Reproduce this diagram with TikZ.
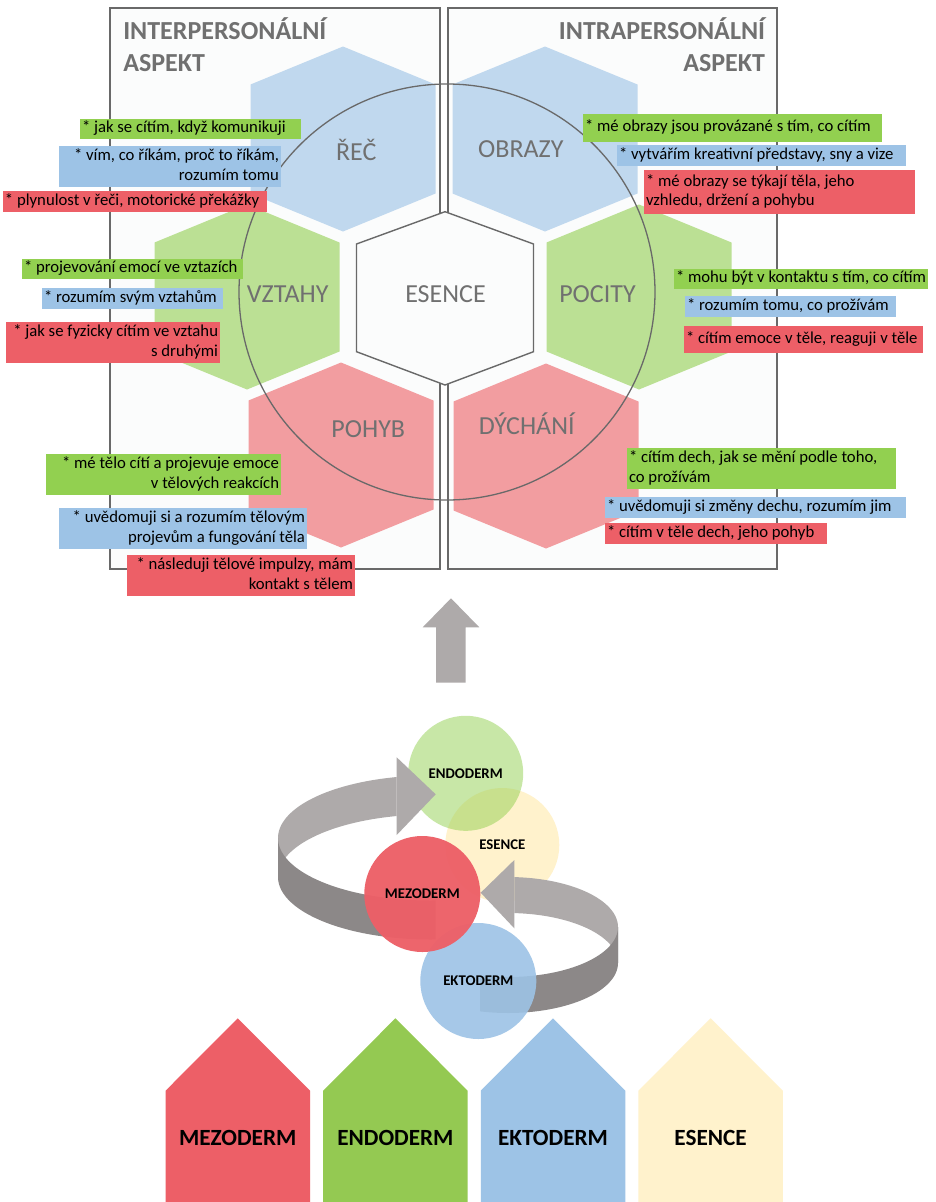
\documentclass[tikz,border=0pt]{standalone}
\usepackage{fontspec}
\setmainfont{Carlito}
\definecolor{hexblue}{RGB}{192,216,238}
\definecolor{hexgreen}{RGB}{187,224,148}
\definecolor{hexred}{RGB}{242,157,160}
\definecolor{tagG}{RGB}{146,208,80}
\definecolor{tagB}{RGB}{157,195,230}
\definecolor{tagR}{RGB}{237,95,103}
\definecolor{linegray}{RGB}{105,105,105}
\definecolor{labelgray}{RGB}{112,112,112}
\definecolor{panelfill}{RGB}{251,252,252}
\definecolor{ribbonlight}{RGB}{174,170,170}
\definecolor{ribbondark}{RGB}{140,136,136}
\definecolor{esenceyellow}{RGB}{255,242,204}
\definecolor{houseGreen}{RGB}{148,201,82}
\newcommand\tagfont{\fontsize{16.7}{19.4}\selectfont}
\begin{document}
\begin{tikzpicture}[x=1pt,y=-1pt,
  every node/.style={inner sep=0pt, outer sep=0pt},
  panel/.style={draw=linegray, line width=1.5pt, fill=panelfill},
  hexa/.pic={\path[pic actions] (0,-92.5) -- (92.5,-54.5) -- (92.5,54.5) -- (0,92.5) -- (-92.5,54.5) -- (-92.5,-54.5) -- cycle;},
  house/.pic={\path[pic actions] (-72.25,184) -- (-72.25,72.4) -- (0,0) -- (72.25,72.4) -- (72.25,184) -- cycle;},
  hexlabel/.style={anchor=base, text=labelgray, font=\fontsize{26}{31}\selectfont},
  title/.style={text=labelgray, font=\bfseries\fontsize{26}{31}\selectfont},
  tag/.style={fill=#1, inner xsep=2pt, inner ysep=0pt, font=\tagfont, text=black,
    execute at begin node=\strut, execute at end node=\strut},
  germ/.style={circle, minimum size=#1, text=black, text opacity=1,
    font=\bfseries\fontsize{14.8}{17}\selectfont},
  houselabel/.style={text=black, font=\bfseries\fontsize{23.2}{28}\selectfont},
]
\useasboundingbox (0,0) rectangle (936,1202);
\fill[white] (0,0) rectangle (936,1202);

% ---------- the two aspect panels ----------
\draw[panel] (110,8) rectangle (440,569);
\draw[panel] (448,8) rectangle (777,569);

% ---------- honeycomb ----------
\pic[fill=hexblue] at (343,139) {hexa};
\pic[fill=hexblue] at (545,139) {hexa};
\pic[fill=hexgreen] at (247,297) {hexa};
\pic[fill=hexgreen] at (639,297) {hexa};
\pic[fill=hexred] at (341,455) {hexa};
\pic[fill=hexred] at (546,456) {hexa};
\draw[linegray, line width=1.4pt, fill=panelfill]
  (445,211.7) -- (533.5,244) -- (533.5,351.7) -- (445,385) -- (356.5,351.7) -- (356.5,244) -- cycle;

\node[circle, draw=linegray, line width=1.3pt, minimum size=416pt] (ring) at (447,292) {};

\node[hexlabel] (rec) at (356.3,160) {ŘEČ};
\node[hexlabel] (obrazy) at (520.8,157.7) {OBRAZY};
\node[hexlabel] (vztahy) at (287.7,302.3) {VZTAHY};
\node[hexlabel] (esence) at (445.5,302.3) {ESENCE};
\node[hexlabel] (pocity) at (597.5,302.3) {POCITY};
\node[hexlabel] (pohyb) at (368.3,437.3) {POHYB};
\node[hexlabel] (dychani) at (526.7,434.3) {DÝCHÁNÍ};

\node[title, anchor=base west] (inter1) at (123.3,39.5) {INTERPERSONÁLNÍ};
\node[title, anchor=base west] (inter2) at (123.3,71.5) {ASPEKT};
\node[title, anchor=base east] (intra1) at (765,39.5) {INTRAPERSONÁLNÍ};
\node[title, anchor=base east] (intra2) at (765,71.5) {ASPEKT};

% ---------- interpersonal notes ----------
\node[tag=tagG, text width=217pt, minimum height=20pt, align=flush left] (t1) at (190.5,129) {* jak se cítím, když komunikuji};
\node[tag=tagB, text width=218pt, minimum height=41pt, align=flush right] (t2) at (170,166.5) {* vím, co říkám, proč to říkám,\\rozumím tomu};
\node[tag=tagR, text width=260pt, minimum height=21pt, align=flush left] (t3) at (135,201.5) {* plynulost v řeči, motorické překážky};
\node[tag=tagG, text width=217pt, minimum height=20pt, align=flush left] (t4) at (132.5,269) {* projevování emocí ve vztazích};
\node[tag=tagB, text width=177pt, minimum height=21pt, align=flush left] (t5) at (132.5,298.5) {* rozumím svým vztahům};
\node[tag=tagR, text width=210pt, minimum height=41pt, align=flush right] (t6) at (113,342.5) {* jak se fyzicky cítím ve vztahu\\s druhými};
\node[tag=tagG, text width=231pt, minimum height=41pt, align=flush right] (t7) at (163.5,474.5) {* mé tělo cítí a projevuje emoce\\v tělových reakcích};
\node[tag=tagB, text width=244pt, minimum height=41pt, align=flush right] (t8) at (183,528.5) {* uvědomuji si a rozumím tělovým\\projevům a fungování těla};
\node[tag=tagR, text width=224pt, minimum height=41pt, align=flush right] (t9) at (241,575.5) {* následuji tělové impulzy, mám\\kontakt s tělem};

% ---------- intrapersonal notes ----------
\node[tag=tagG, text width=295pt, minimum height=28pt, align=flush left] (t10) at (732.5,128) {* mé obrazy jsou provázané s tím, co cítím};
\node[tag=tagB, text width=285pt, minimum height=21pt, align=flush left] (t11) at (761.5,155.5) {* vytvářím kreativní představy, sny a vize};
\node[tag=tagR, text width=267pt, minimum height=44pt, align=flush left] (t12) at (779.5,192) {* mé obrazy se týkají těla, jeho\\vzhledu, držení a pohybu};
\node[tag=tagG, text width=250pt, minimum height=20pt, align=flush left] (t13) at (801,279) {* mohu být v kontaktu s tím, co cítím};
\node[tag=tagB, text width=207pt, minimum height=21pt, align=flush left] (t14) at (790.5,306.5) {* rozumím tomu, co prožívám};
\node[tag=tagR, text width=235pt, minimum height=27pt, align=flush left] (t15) at (803.5,339.5) {* cítím emoce v těle, reaguji v těle};
\node[tag=tagG, text width=265pt, minimum height=41pt, align=flush left] (t16) at (761.5,468.5) {* cítím dech, jak se mění podle toho,\\co prožívám};
\node[tag=tagB, text width=297pt, minimum height=21pt, align=flush left] (t17) at (755.5,507.5) {* uvědomuji si změny dechu, rozumím jim};
\node[tag=tagR, text width=218pt, minimum height=21pt, align=flush left] (t18) at (716,533.5) {* cítím v těle dech, jeho pohyb};

% ---------- block arrow up ----------
\fill[ribbonlight] (436,682.7) -- (436,627.3) -- (422.7,627.3) -- (451,598.3)
  -- (479.3,627.3) -- (465.7,627.3) -- (465.7,682.7) -- cycle;

% ---------- germ layers cycle ----------
\node[germ=114pt, fill=esenceyellow] (cEsence) at (502.3,845) {ESENCE};
\node[germ=115pt, fill=tagG, fill opacity=0.5] (cEndo) at (465.7,773.3) {ENDODERM};

% upper ribbon: inner face, head, outer face
\fill[ribbonlight] plot[domain=257.35:180, samples=50, variable=\t] ({430+152*cos(\t)},{838+62.5*sin(\t)})
  -- plot[domain=180:257.35, samples=50, variable=\t] ({430+152*cos(\t)},{877+62.5*sin(\t)}) -- cycle;
\fill[ribbonlight] (396.7,757.3) -- (435.7,794.3) -- (396.7,835) -- cycle;
\fill[ribbondark] plot[domain=180:87.85, samples=50, variable=\t] ({430+152*cos(\t)},{838+62.5*sin(\t)})
  -- plot[domain=87.85:180, samples=50, variable=\t] ({430+152*cos(\t)},{877+62.5*sin(\t)}) -- cycle;

% lower ribbon: inner face, head, outer face
\fill[ribbonlight] plot[domain=273.3:360, samples=50, variable=\t] ({508+110*cos(\t)},{927+50*sin(\t)})
  -- plot[domain=360:273.3, samples=50, variable=\t] ({508+110*cos(\t)},{963+50*sin(\t)}) -- cycle;
\fill[ribbonlight] (514.3,860) -- (480.7,892.7) -- (514.3,928.3) -- cycle;
\fill[ribbondark] plot[domain=0:104.7, samples=50, variable=\t] ({508+110*cos(\t)},{927+50*sin(\t)})
  -- plot[domain=104.7:0, samples=50, variable=\t] ({508+110*cos(\t)},{963+50*sin(\t)}) -- cycle;

\node[germ=116pt, fill=tagB, fill opacity=0.9] (cEkto) at (478.3,981) {EKTODERM};
\node[germ=116pt, fill=tagR, fill opacity=0.96] (cMezo) at (422.3,894) {MEZODERM};

% ---------- the four layers ----------
\pic[fill=tagR] at (237.8,1018.3) {house};
\pic[fill=houseGreen] at (395.4,1018.3) {house};
\pic[fill=tagB] at (553,1018.3) {house};
\pic[fill=esenceyellow] at (710.6,1018.3) {house};
\node[houselabel] (hMezo) at (237.8,1138) {MEZODERM};
\node[houselabel] (hEndo) at (395.4,1138) {ENDODERM};
\node[houselabel] (hEkto) at (553,1138) {EKTODERM};
\node[houselabel] (hEsence) at (710.6,1138) {ESENCE};
\end{tikzpicture}
\end{document}
